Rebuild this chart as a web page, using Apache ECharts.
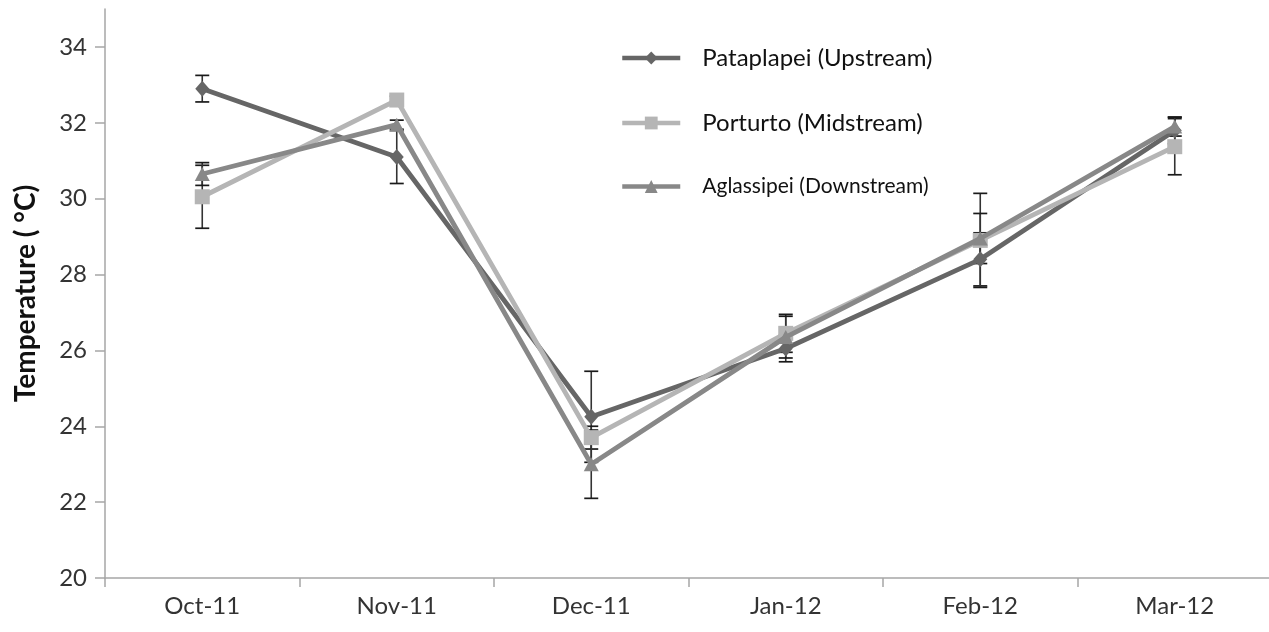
<!DOCTYPE html>
<html>
<head>
<meta charset="utf-8">
<script src="https://cdn.jsdelivr.net/npm/echarts@6/dist/echarts.min.js"></script>
<style>
  html, body { margin: 0; padding: 0; background: #ffffff; }
  #chart { width: 1269px; height: 632px; }
</style>
</head>
<body>
<div id="chart"></div>
<script>
// Monthly mean water temperature at three river stations, with error bars
const months = ['Oct-11', 'Nov-11', 'Dec-11', 'Jan-12', 'Feb-12', 'Mar-12'];
const seriesNames = ['Pataplapei (Upstream)', 'Porturto (Midstream)', 'Aglassipei (Downstream)'];

const upstream   = [32.9, 31.1, 24.25, 26.05, 28.4, 31.8];
const midstream  = [30.05, 32.6, 23.7, 26.45, 28.9, 31.37];
const downstream = [30.65, 31.95, 23.0, 26.35, 28.95, 31.9];

const upstreamErr   = [0.35, 0.7, 1.2, 0.35, 0.7, 0.35];
const midstreamErr  = [0.83, 0.1, 0.3, 0.5, 1.24, 0.74];
const downstreamErr = [0.3, 0.12, 0.9, 0.55, 0.66, 0.25];

const yTicks = [20, 22, 24, 26, 28, 30, 32, 34];

const FONT = 'Lato, "Open Sans", sans-serif';

function errorData(values, errs) {
  return values.map((v, i) => [i, v - errs[i], v + errs[i]]);
}

function renderError(params, api) {
  const idx = api.value(0);
  const top = api.coord([idx, api.value(2)]);
  const bot = api.coord([idx, api.value(1)]);
  const half = 7;
  const capStyle = { stroke: '#1a1a1a', lineWidth: 1.7 };
  return {
    type: 'group',
    children: [
      { type: 'line', shape: { x1: top[0], y1: top[1], x2: bot[0], y2: bot[1] }, style: { stroke: '#333333', lineWidth: 1.6 } },
      { type: 'line', shape: { x1: top[0] - half, y1: top[1], x2: top[0] + half, y2: top[1] }, style: capStyle },
      { type: 'line', shape: { x1: bot[0] - half, y1: bot[1], x2: bot[0] + half, y2: bot[1] }, style: capStyle }
    ]
  };
}

const colors = ['#666666', '#b5b5b5', '#888888'];
const symbols = ['diamond', 'rect', 'triangle'];
const symbolSizes = [[14, 16], 15, [15, 14]];
const values = [upstream, midstream, downstream];
const errs = [upstreamErr, midstreamErr, downstreamErr];

const series = [];
values.forEach((vals, k) => {
  series.push({
    type: 'custom',
    name: seriesNames[k] + ' error',
    renderItem: renderError,
    data: errorData(vals, errs[k]),
    encode: { x: 0, y: [1, 2] },
    z: 1,
    silent: true
  });
});
values.forEach((vals, k) => {
  series.push({
    type: 'line',
    name: seriesNames[k],
    data: vals,
    symbol: symbols[k],
    symbolSize: symbolSizes[k],
    showAllSymbol: true,
    lineStyle: { color: colors[k], width: 4.8 },
    itemStyle: { color: colors[k] },
    z: 3 + k
  });
});

const chart = echarts.init(document.getElementById('chart'));
chart.setOption({
  animation: false,
  backgroundColor: '#ffffff',
  grid: { left: 105, top: 9, width: 1167, bottom: 54, containLabel: false, outerBoundsMode: 'none' },
  legend: {
    orient: 'vertical',
    left: 620,
    top: 46,
    padding: 0,
    itemWidth: 58,
    itemHeight: 16,
    itemGap: 41,
    lineStyle: { width: 4.5 },
    data: [
      { name: seriesNames[0], textStyle: { fontSize: 24 } },
      { name: seriesNames[1], textStyle: { fontSize: 24 } },
      { name: seriesNames[2], textStyle: { fontSize: 21 } }
    ],
    textStyle: { fontFamily: FONT, color: '#111111', padding: [0, 0, 0, 17] }
  },
  xAxis: {
    type: 'category',
    data: months,
    boundaryGap: true,
    axisLine: { lineStyle: { color: '#a6a6a6', width: 1.5 } },
    axisTick: { show: true, length: 9, lineStyle: { color: '#a6a6a6', width: 1.5 } },
    axisLabel: { fontFamily: FONT, fontSize: 24, color: '#333333', margin: 16 },
    splitLine: { show: false }
  },
  yAxis: {
    type: 'value',
    min: 20,
    max: 35,
    interval: 1,
    name: 'Temperature ( °C)',
    nameLocation: 'middle',
    nameGap: 65,
    nameRotate: 90,
    nameTextStyle: { fontFamily: FONT, fontSize: 28, fontWeight: 'bold', color: '#111111' },
    axisLine: { show: true, lineStyle: { color: '#a6a6a6', width: 1.5 } },
    axisTick: { show: true, length: 10, customValues: yTicks, lineStyle: { color: '#a6a6a6', width: 1.5 } },
    axisLabel: { fontFamily: FONT, fontSize: 24, color: '#333333', margin: 18, customValues: yTicks },
    splitLine: { show: false }
  },
  series: series
});
</script>
</body>
</html>
